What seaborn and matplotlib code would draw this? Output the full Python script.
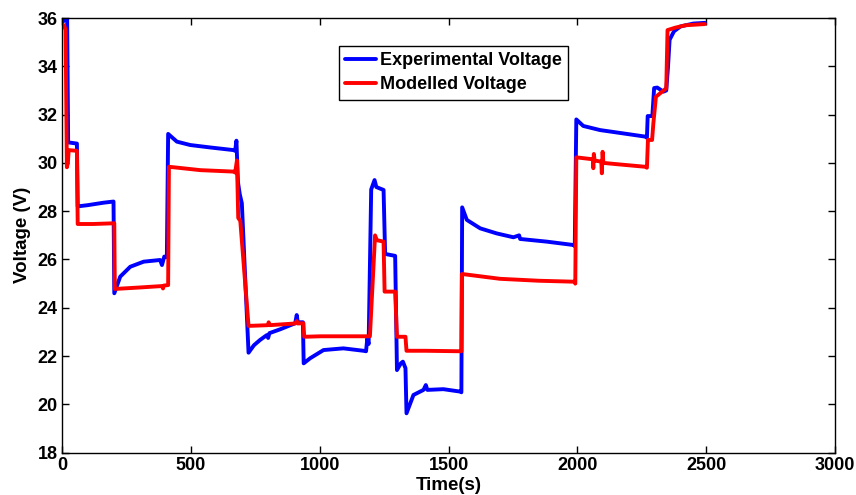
import matplotlib
matplotlib.use("Agg")
import matplotlib.pyplot as plt
import seaborn as sns
import pandas as pd

# Measured stack voltage over the test profile
exp_time = [0, 15, 20, 24, 58, 61, 100, 160, 200, 203, 226, 265, 317, 381, 388, 397,
            407, 412, 446, 498, 575, 666, 672, 677, 683, 690, 698, 724, 745, 769, 795,
            800, 805, 847, 905, 911, 915, 935, 938, 963, 1015, 1092, 1170, 1180, 1185,
            1190, 1200, 1213, 1220, 1248, 1254, 1293, 1300, 1315, 1323, 1333, 1337,
            1364, 1403, 1412, 1418, 1480, 1545, 1550, 1553, 1571, 1623, 1687, 1752,
            1774, 1778, 1881, 1985, 1990, 1996, 2023, 2088, 2192, 2263, 2270, 2273,
            2291, 2298, 2310, 2334, 2345, 2352, 2358, 2375, 2400, 2450, 2495]
exp_volt = [35.8, 36.0, 36.0, 30.85, 30.8, 28.2, 28.25, 28.35, 28.4, 24.6, 25.29, 25.7,
            25.91, 25.98, 25.77, 26.12, 26.1, 31.2, 30.88, 30.74, 30.64, 30.53, 30.5,
            30.92, 29.2, 28.7, 28.33, 22.14, 22.45, 22.67, 22.87, 22.75, 22.95, 23.11,
            23.36, 23.7, 23.4, 23.4, 21.7, 21.91, 22.25, 22.32, 22.22, 22.2, 22.74,
            22.5, 28.9, 29.29, 29.0, 28.88, 26.23, 26.15, 21.42, 21.7, 21.77, 21.5,
            19.63, 20.39, 20.6, 20.8, 20.6, 20.63, 20.53, 20.5, 28.16, 27.64, 27.29,
            27.08, 26.92, 27.0, 26.85, 26.74, 26.6, 26.55, 31.8, 31.53, 31.36, 31.2,
            31.09, 31.04, 31.94, 31.94, 33.1, 33.12, 32.95, 33.0, 34.0, 35.1, 35.45,
            35.65, 35.77, 35.8]

# Model output for the same profile
mod_time = [0, 8, 14, 19, 23, 26, 58, 61, 120, 203, 205, 300, 388, 392, 395, 412, 415,
            537, 666, 672, 679, 684, 692, 724, 800, 802, 805, 905, 911, 915, 937, 940,
            1004, 1086, 1195, 1215, 1222, 1248, 1252, 1293, 1300, 1333, 1337, 1409,
            1545, 1550, 1552, 1700, 1850, 1989, 1992, 1996, 2060, 2062, 2064, 2067,
            2093, 2095, 2098, 2101, 2150, 2263, 2270, 2274, 2290, 2295, 2305, 2345,
            2350, 2380, 2420, 2495]
mod_volt = [35.7, 35.7, 35.5, 29.82, 30.0, 30.53, 30.5, 27.47, 27.47, 27.5, 24.78,
            24.84, 24.9, 24.8, 24.92, 24.94, 29.84, 29.7, 29.64, 29.6, 30.1, 27.72,
            27.6, 23.25, 23.28, 23.4, 23.28, 23.35, 23.45, 23.35, 23.36, 22.8, 22.82,
            22.82, 22.82, 27.0, 26.8, 26.74, 24.67, 24.67, 22.8, 22.8, 22.22, 22.22,
            22.2, 22.2, 25.4, 25.2, 25.12, 25.08, 25.0, 30.23, 30.15, 29.78, 30.37,
            30.1, 30.05, 29.57, 30.46, 30.0, 29.95, 29.84, 29.8, 30.95, 30.95, 31.64,
            32.74, 33.09, 35.5, 35.6, 35.7, 35.75]

x_ticks = [0, 500, 1000, 1500, 2000, 2500, 3000]
y_ticks = [18, 20, 22, 24, 26, 28, 30, 32, 34, 36]

sns.set_style("white")
plt.rcParams["font.family"] = ["Liberation Sans", "DejaVu Sans"]
plt.rcParams["font.weight"] = "bold"
plt.rcParams["text.color"] = "black"
plt.rcParams["axes.labelcolor"] = "black"
plt.rcParams["xtick.color"] = "black"
plt.rcParams["ytick.color"] = "black"

exp_df = pd.DataFrame({"Time(s)": exp_time, "Voltage (V)": exp_volt})
mod_df = pd.DataFrame({"Time(s)": mod_time, "Voltage (V)": mod_volt})

fig = plt.figure(figsize=(8.56, 4.95), dpi=100)
ax = fig.add_axes([0.0724, 0.0855, 0.9031, 0.8781])

sns.lineplot(data=exp_df, x="Time(s)", y="Voltage (V)", ax=ax, color=(0, 0, 1),
             linewidth=2.8, estimator=None, sort=False, label="Experimental Voltage")
sns.lineplot(data=mod_df, x="Time(s)", y="Voltage (V)", ax=ax, color=(1, 0, 0),
             linewidth=2.8, estimator=None, sort=False, label="Modelled Voltage")

ax.set_xlim(0, 3000)
ax.set_ylim(18, 36)
ax.set_xticks(x_ticks)
ax.set_yticks(y_ticks)
ax.set_xticklabels([str(v) for v in x_ticks], fontsize=13, fontweight="bold", color="black")
ax.set_yticklabels([str(v) for v in y_ticks], fontsize=13, fontweight="bold", color="black")
ax.set_xlabel("Time(s)", fontsize=13.5, fontweight="bold", labelpad=2, color="black")
ax.set_ylabel("Voltage (V)", fontsize=13.5, fontweight="bold", labelpad=5, color="black")

for spine in ax.spines.values():
    spine.set_visible(True)
    spine.set_color("black")
    spine.set_linewidth(1.0)
ax.tick_params(direction="in", length=5, width=1, top=True, right=True,
               bottom=True, left=True, pad=3, colors="black")
ax.grid(False)

leg = ax.legend(loc="upper left", bbox_to_anchor=(0.358, 0.936), fontsize=13,
                frameon=True, fancybox=False, edgecolor="black", framealpha=1,
                handlelength=1.7, handletextpad=0.25, borderpad=0.35,
                labelspacing=0.4, borderaxespad=0)
leg.get_frame().set_linewidth(1.0)
for txt in leg.get_texts():
    txt.set_fontweight("bold")
    txt.set_color("black")

fig.savefig("out.png", dpi=100, facecolor="white")
